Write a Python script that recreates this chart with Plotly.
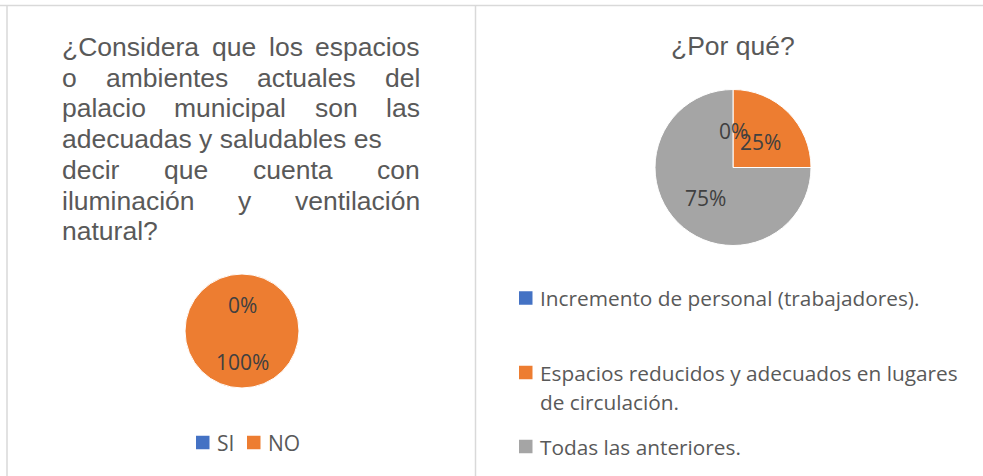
import math
import plotly.graph_objects as go

# ---------------- data ----------------
q1_title_lines = [
    "¿Considera que los espacios",
    "o ambientes actuales del",
    "palacio municipal son las",
    "adecuadas y saludables es",
    "decir que cuenta con",
    "iluminación y ventilación",
    "natural?",
]
q1_justify = [True, True, True, False, True, True, False]
q1_labels = ["SI", "NO"]
q1_values = [0, 100]

q2_title = "¿Por qué?"
q2_labels = [
    "Incremento de personal (trabajadores).",
    "Espacios reducidos y adecuados en lugares<br>de circulación.",
    "Todas las anteriores.",
]
q2_values = [0, 25, 75]

slice_colors = ["#4472C4", "#ED7D31", "#A5A5A5"]

# ---------------- layout helpers ----------------
W, H = 983, 476
TEXT = "#595959"
LABEL = "#404040"
TITLE_FONT = "Liberation Sans, Arial, sans-serif"
BODY_FONT = "Open Sans, Noto Sans, sans-serif"
TITLE_SIZE = 26.5
BODY_SIZE = 21


def px(x):
    return x / W


def py(y):
    return 1 - y / H


ARIAL = {' ': 278, '¿': 611, '?': 556, 'C': 722, 'P': 667, 'a': 556, 'b': 556,
         'c': 500, 'd': 556, 'e': 556, 'i': 222, 'l': 222, 'm': 833, 'n': 556,
         'o': 556, 'p': 556, 'q': 556, 'r': 333, 's': 500, 't': 278, 'u': 556,
         'v': 500, 'y': 500, 'ó': 556, 'é': 556, 'g': 556}


def text_w(s, size):
    return sum(ARIAL.get(c, 556) for c in s) * size / 1000.0


annotations = []
shapes = []

# panel borders
border = dict(type="line", xref="paper", yref="paper",
              line=dict(color="#D9D9D9", width=1.5))
shapes.append(dict(border, x0=px(0), x1=px(W), y0=py(5.5), y1=py(5.5)))
shapes.append(dict(border, x0=px(7), x1=px(7), y0=py(5.5), y1=py(H)))
shapes.append(dict(border, x0=px(475.5), x1=px(475.5), y0=py(5.5), y1=py(H)))

# left justified title
L, R = 62, 420
base0, lstep = 47, 30.7
for i, (line, just) in enumerate(zip(q1_title_lines, q1_justify)):
    yc = base0 + i * lstep
    words = line.split(" ")
    common = dict(xref="paper", yref="paper", y=py(yc), yanchor="middle",
                  showarrow=False, borderpad=0, borderwidth=0,
                  font=dict(family=TITLE_FONT, size=TITLE_SIZE, color=TEXT))
    if just and len(words) > 1:
        widths = [text_w(w, TITLE_SIZE) for w in words]
        gap = (R - L - sum(widths)) / (len(words) - 1)
        x = L
        for j, (w, ww) in enumerate(zip(words, widths)):
            if j == len(words) - 1:
                annotations.append(dict(common, text=w, x=px(R), xanchor="right"))
            else:
                annotations.append(dict(common, text=w, x=px(x), xanchor="left"))
            x += ww + gap
    else:
        annotations.append(dict(common, text=line, x=px(L), xanchor="left"))

# right title
annotations.append(dict(xref="paper", yref="paper", x=px(733), y=py(45.5),
                        xanchor="center", yanchor="middle", showarrow=False,
                        text=q2_title,
                        font=dict(family=TITLE_FONT, size=TITLE_SIZE, color=TEXT)))

# pies
pies = [
    dict(labels=q1_labels, values=q1_values, cx=242, cy=331, r=57),
    dict(labels=q2_labels, values=q2_values, cx=733, cy=167.5, r=78),
]

fig = go.Figure()
for i, p in enumerate(pies):
    cols = slice_colors[:len(p["values"])] if len(p["values"]) == 3 else slice_colors[:2]
    fig.add_trace(go.Pie(
        labels=p["labels"], values=p["values"], sort=False,
        direction="clockwise", rotation=0, textinfo="none",
        marker=dict(colors=cols, line=dict(color="white", width=1)),
        domain=dict(x=[px(p["cx"] - p["r"]), px(p["cx"] + p["r"])],
                    y=[py(p["cy"] + p["r"]), py(p["cy"] - p["r"])]),
        showlegend=False, hoverinfo="label+percent",
    ))
    total = sum(p["values"])
    cum = 0
    for v in p["values"]:
        theta = math.radians((cum + v / 2) / total * 360)
        cum += v
        lx = p["cx"] + 0.5 * p["r"] * math.sin(theta)
        ly = p["cy"] - 0.5 * p["r"] * math.cos(theta) + 2.5
        annotations.append(dict(xref="paper", yref="paper", x=px(lx), y=py(ly),
                                xanchor="center", yanchor="middle", showarrow=False,
                                text=f"{round(v / total * 100)}%",
                                font=dict(family=BODY_FONT, size=BODY_SIZE, color=LABEL)))

# legends (manual)
SQ = 13.5


def legend_item(x, yc, color, label, size=BODY_SIZE, line_h=29):
    shapes.append(dict(type="rect", xref="paper", yref="paper",
                       x0=px(x), x1=px(x + SQ), y0=py(yc + SQ / 2), y1=py(yc - SQ / 2),
                       fillcolor=color, line=dict(width=0)))
    for k, part in enumerate(label.split("<br>")):
        annotations.append(dict(xref="paper", yref="paper", x=px(x + SQ + 6),
                                y=py(yc + k * line_h), xanchor="left", yanchor="middle",
                                showarrow=False, borderpad=0, text=part,
                                font=dict(family=BODY_FONT, size=size, color=TEXT)))


legend_item(196, 442.5, slice_colors[0], q1_labels[0])
legend_item(247, 442.5, slice_colors[1], q1_labels[1])
for lab, col, yc in zip(q2_labels, slice_colors, [298, 372.5, 446.5]):
    legend_item(519, yc, col, lab, size=20.8)

fig.update_layout(
    width=W, height=H, margin=dict(l=0, r=0, t=0, b=0),
    paper_bgcolor="white", plot_bgcolor="white",
    annotations=annotations, shapes=shapes,
)

fig.write_html("out.html", config={"displayModeBar": False},
               post_script="document.body.style.margin='0';document.body.style.overflow='hidden';")
